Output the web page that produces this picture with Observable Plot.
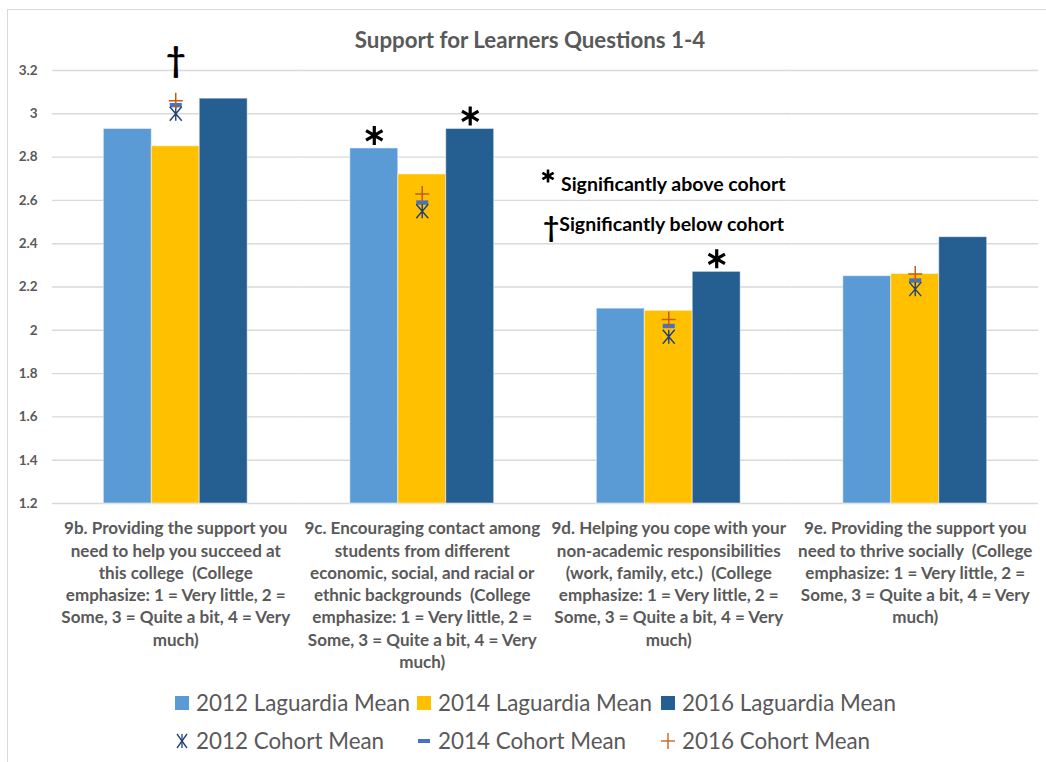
<!DOCTYPE html>
<html>
<head>
<meta charset="utf-8">
<script src="https://cdn.jsdelivr.net/npm/d3@7"></script>
<script src="https://cdn.jsdelivr.net/npm/@observablehq/plot@0.6"></script>
<style>
  html, body { margin: 0; padding: 0; background: #fff; overflow: hidden; width: 1046px; height: 762px; }
  body { position: relative; font-family: Lato, "Open Sans", sans-serif; }
  #frame { position: absolute; left: 7px; top: 9px; width: 1100px; height: 800px; border: 1px solid #d9d9d9; box-sizing: border-box; }
  #title { position: absolute; left: 0; width: 1060px; top: 26px; text-align: center; font-weight: bold; font-size: 22.3px; color: #595959; }
  #chart { position: absolute; left: 0; top: 60px; }
  .note { position: absolute; font-weight: bold; font-size: 19.5px; color: #000; white-space: nowrap; }
  .leg { position: absolute; font-size: 22.4px; color: #595959; white-space: nowrap; display: flex; align-items: center; }
  .leg svg { margin-right: 7px; }
</style>
</head>
<body>
<div id="frame"></div>
<div id="title">Support for Learners Questions 1-4</div>
<div id="chart"></div>
<div id="notes"></div>
<div id="legend"></div>
<script>
// ---------- data ----------
const groupKeys = ["9b", "9c", "9d", "9e"];
const groupLabels = [
  "9b. Providing the support you\nneed to help you succeed at\nthis college  (College\nemphasize: 1 = Very little, 2 =\nSome, 3 = Quite a bit, 4 = Very\nmuch)",
  "9c. Encouraging contact among\nstudents from different\neconomic, social, and racial or\nethnic backgrounds  (College\nemphasize: 1 = Very little, 2 =\nSome, 3 = Quite a bit, 4 = Very\nmuch)",
  "9d. Helping you cope with your\nnon-academic responsibilities\n(work, family, etc.)  (College\nemphasize: 1 = Very little, 2 =\nSome, 3 = Quite a bit, 4 = Very\nmuch)",
  "9e. Providing the support you\nneed to thrive socially  (College\nemphasize: 1 = Very little, 2 =\nSome, 3 = Quite a bit, 4 = Very\nmuch)"
];
const years = ["2012", "2014", "2016"];
const barSeries = ["2012 Laguardia Mean", "2014 Laguardia Mean", "2016 Laguardia Mean"];
const cohortSeries = ["2012 Cohort Mean", "2014 Cohort Mean", "2016 Cohort Mean"];
const mean2012 = [2.93, 2.84, 2.10, 2.25];
const mean2014 = [2.85, 2.72, 2.09, 2.26];
const mean2016 = [3.07, 2.93, 2.27, 2.43];
const cohort2012 = [3.00, 2.55, 1.97, 2.19];
const cohort2014 = [3.04, 2.59, 2.02, 2.23];
const cohort2016 = [3.06, 2.63, 2.05, 2.26];
const yTicks = [1.2, 1.4, 1.6, 1.8, 2, 2.2, 2.4, 2.6, 2.8, 3, 3.2];
const yTickLabels = ["1.2", "1.4", "1.6", "1.8", "2", "2.2", "2.4", "2.6", "2.8", "3", "3.2"];
// significance marks
const aboveGroup = [1, 1, 2];
const aboveYear = ["2012", "2016", "2016"];
const belowGroup = [0];
const belowYear = ["2014"];
const noteAbove = "Significantly above cohort";
const noteBelow = "Significantly below cohort";

// ---------- styles ----------
const barColors = ["#5B9BD5", "#FFC000", "#255E91"];
const cohortColors = ["#203F74", "#4472C4", "#C55A11"];

const means = [mean2012, mean2014, mean2016];
const bars = [];
groupKeys.forEach((g, i) => years.forEach((yr, j) => bars.push({group: g, year: yr, value: means[j][i]})));
const yMin = yTicks[0], yMax = yTicks[yTicks.length - 1];

// custom symbols
const starX = {draw(c) { const a = 6, b = 7; c.moveTo(-a, -b); c.lineTo(a, b); c.moveTo(-a, b); c.lineTo(a, -b); c.moveTo(0, -b); c.lineTo(0, b); }};
const dash = {draw(c) { c.moveTo(-6, -2.2); c.lineTo(6, -2.2); c.lineTo(6, 2.2); c.lineTo(-6, 2.2); c.closePath(); }};
const plus = {draw(c) { c.moveTo(-7, 0); c.lineTo(7, 0); c.moveTo(0, -8); c.lineTo(0, 8); }};

const idx = groupKeys.map((_, i) => i);
const aIdx = aboveGroup.map((_, i) => i);
const meanOf = (g, yr) => means[years.indexOf(yr)][g];

const chart = Plot.plot({
  width: 1046,
  height: 620,
  marginLeft: 52,
  marginRight: 8,
  marginTop: 10,
  marginBottom: 177,
  style: {fontFamily: "Lato, 'Open Sans', sans-serif", background: "transparent", overflow: "visible"},
  fx: {domain: groupKeys, padding: 0, label: null, round: false},
  x: {domain: years, paddingInner: 0, paddingOuter: 1.07, axis: null, round: false},
  y: {domain: [yMin, yMax], axis: null},
  color: {domain: years, range: barColors},
  marks: [
    Plot.gridY(yTicks, {stroke: "#d9d9d9", strokeOpacity: 1, strokeWidth: 1.4}),
    Plot.axisY(yTicks, {tickSize: 0, tickPadding: 15, tickFormat: d => yTickLabels[yTicks.indexOf(d)], fontSize: 13.5, fontWeight: "bold", fill: "#595959", label: null}),
    Plot.axisFx({anchor: "bottom", tickSize: 0, tickPadding: 15, tickFormat: k => groupLabels[groupKeys.indexOf(k)], fontSize: 17, fontWeight: "bold", fill: "#595959", lineHeight: 1.31, label: null}),
    Plot.barY(bars, {fx: "group", x: "year", y1: yMin, y2: "value", fill: "year", stroke: "#ffffff", strokeOpacity: 0.5, strokeWidth: 1, inset: 0}),
    Plot.dot(idx, {fx: i => groupKeys[i], x: () => "2014", y: i => cohort2014[i], symbol: dash, fill: cohortColors[1], stroke: "none"}),
    Plot.dot(idx, {fx: i => groupKeys[i], x: () => "2014", y: i => cohort2012[i], symbol: starX, fill: "none", stroke: cohortColors[0], strokeWidth: 1.4}),
    Plot.dot(idx, {fx: i => groupKeys[i], x: () => "2014", y: i => cohort2016[i], symbol: plus, fill: "none", stroke: cohortColors[2], strokeWidth: 1.5}),
    Plot.dot(aIdx, {fx: i => groupKeys[aboveGroup[i]], x: i => aboveYear[i], y: i => meanOf(aboveGroup[i], aboveYear[i]), dy: -13, symbol: "asterisk", r: 9, stroke: "#000", strokeWidth: 3.2, fill: "none"}),
    Plot.text(belowGroup, {fx: g => groupKeys[g], x: (g, i) => belowYear[i], y: g => cohort2016[g], dy: -40, text: () => "\u2020", fontSize: 34, fontWeight: "bold", fill: "#000", lineAnchor: "middle"})
  ]
});
document.getElementById("chart").appendChild(chart);

// in-plot significance notes
const notes = document.getElementById("notes");
const astSvg = `<svg width="14" height="14" viewBox="-7 -7 14 14" style="vertical-align:top"><g stroke="#000" stroke-width="2.6"><line x1="0" y1="-6.5" x2="0" y2="6.5"/><line x1="-5.6" y1="-3.2" x2="5.6" y2="3.2"/><line x1="-5.6" y1="3.2" x2="5.6" y2="-3.2"/></g></svg>`;
notes.innerHTML =
  `<div class="note" style="left:541px;top:169px">${astSvg}<span style="margin-left:6px;position:relative;top:3px">${noteAbove}</span></div>` +
  `<div class="note" style="left:543px;top:207px"><span style="font-size:28px;position:relative;top:2px">\u2020</span><span style="position:relative;top:-4px">${noteBelow}</span></div>`;

// legend
const legend = document.getElementById("legend");
const lefts = [175, 417, 661];
const sq = c => `<svg width="14" height="14"><rect width="14" height="14" fill="${c}"/></svg>`;
const cohortIcons = [
  `<svg width="14" height="18" viewBox="-7 -9 14 18"><g stroke="${cohortColors[0]}" stroke-width="1.3" fill="none"><line x1="-5" y1="-7" x2="5" y2="7"/><line x1="-5" y1="7" x2="5" y2="-7"/><line x1="0" y1="-7" x2="0" y2="7"/></g></svg>`,
  `<svg width="14" height="14" viewBox="-7 -7 14 14"><rect x="-6" y="-2" width="12" height="4" fill="${cohortColors[1]}"/></svg>`,
  `<svg width="14" height="18" viewBox="-7 -9 14 18"><g stroke="${cohortColors[2]}" stroke-width="1.3" fill="none"><line x1="-7" y1="0" x2="7" y2="0"/><line x1="0" y1="-8" x2="0" y2="8"/></g></svg>`
];
let html = "";
barSeries.forEach((s, i) => { html += `<div class="leg" style="left:${lefts[i]}px;top:689px">${sq(barColors[i])}<span>${s}</span></div>`; });
cohortSeries.forEach((s, i) => { html += `<div class="leg" style="left:${lefts[i]}px;top:727px">${cohortIcons[i]}<span>${s}</span></div>`; });
legend.innerHTML = html;
</script>
</body>
</html>
